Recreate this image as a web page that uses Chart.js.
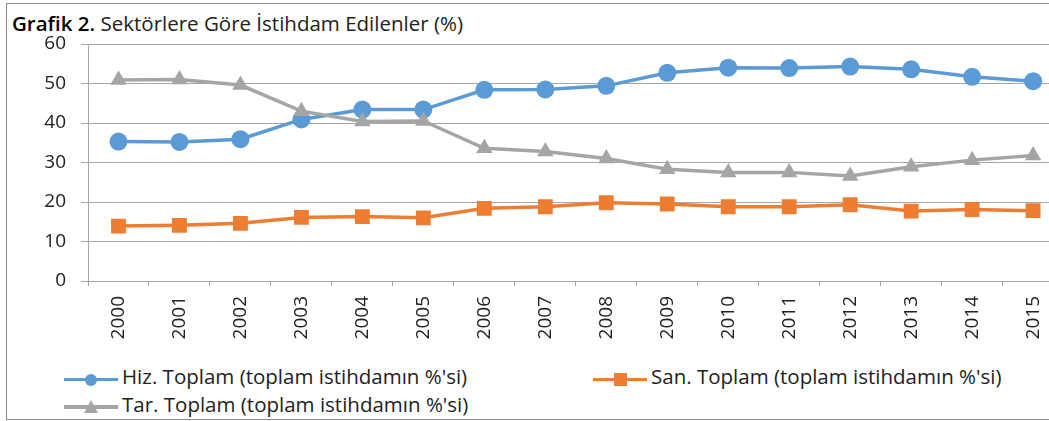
<!DOCTYPE html>
<html><head><meta charset="utf-8">
<script src="https://cdn.jsdelivr.net/npm/chart.js@4"></script>
<style>
html,body{margin:0;padding:0;background:#fff;}
body{width:1049px;height:421px;overflow:hidden;position:relative;font-family:"Open Sans",sans-serif;color:#222;}
#frame{position:absolute;left:6px;top:3px;width:1100px;height:417px;border:1px solid #8c8c8c;box-sizing:border-box;}
#title{position:absolute;left:12px;top:10px;font-size:20.5px;line-height:26px;white-space:nowrap;color:#222;}
#title b{font-weight:600;color:#000;}
#wrap{position:absolute;left:0;top:0;}
.item{position:absolute;height:26px;}
.item .ln{position:absolute;left:0;top:14.3px;width:54px;height:3.5px;}
.item .mk{position:absolute;}
.item .tx{position:absolute;left:58px;top:0;font-size:20.5px;line-height:26px;white-space:nowrap;color:#222;}
</style>
</head><body>
<div id="frame"></div>
<div id="title"><b>Grafik 2.</b> Sektörlere Göre İstihdam Edilenler (%)</div>
<div id="wrap"><canvas id="c" width="1080" height="352"></canvas></div>
<div id="legend"></div>
<script>
const years = ['2000','2001','2002','2003','2004','2005','2006','2007','2008','2009','2010','2011','2012','2013','2014','2015'];
const hizmet = [35.3, 35.2, 35.9, 40.9, 43.4, 43.4, 48.4, 48.5, 49.4, 52.7, 54.0, 53.9, 54.3, 53.6, 51.7, 50.6];
const sanayi = [13.9, 14.1, 14.6, 16.1, 16.3, 16.0, 18.4, 18.8, 19.8, 19.5, 18.8, 18.8, 19.3, 17.7, 18.1, 17.8];
const tarim  = [50.9, 51.0, 49.6, 43.0, 40.4, 40.5, 33.6, 32.8, 31.0, 28.3, 27.5, 27.5, 26.6, 28.9, 30.6, 31.8];
const seriesNames = ["Hiz. Toplam (toplam istihdamın %'si)", "San. Toplam (toplam istihdamın %'si)", "Tar. Toplam (toplam istihdamın %'si)"];
const seriesColors = ['#5b9bd5', '#ed7d31', '#a5a5a5'];
const yTickValues = [0, 10, 20, 30, 40, 50, 60];

const gridColor = '#a6a6a6';
const tickFont = {family: '"Open Sans", sans-serif', size: 19};

const ds = (label, data, color, style, radius, order) => ({
  label, data, borderColor: color, backgroundColor: color,
  borderWidth: 3.5, tension: 0, pointStyle: style, pointRadius: radius,
  pointHoverRadius: radius, pointBorderWidth: 0, pointBackgroundColor: color, order
});

new Chart(document.getElementById('c'), {
  type: 'line',
  data: {
    labels: years,
    datasets: [
      ds(seriesNames[0], hizmet, seriesColors[0], 'circle', 9, 2),
      ds(seriesNames[1], sanayi, seriesColors[1], 'rect', 10.5, 1),
      ds(seriesNames[2], tarim, seriesColors[2], 'triangle', 9.5, 0)
    ]
  },
  options: {
    responsive: false, animation: false, devicePixelRatio: 1,
    layout: {padding: {left: 0, right: 16.4, top: 44, bottom: 0}},
    plugins: {legend: {display: false}, tooltip: {enabled: false}, title: {display: false}},
    scales: {
      x: {
        offset: true,
        grid: {offset: true, drawOnChartArea: false, drawTicks: true, tickLength: 5, color: gridColor, lineWidth: 1},
        border: {color: gridColor, width: 1},
        ticks: {minRotation: 90, maxRotation: 90, autoSkip: false, font: tickFont, color: '#222', padding: 10},
        afterFit: s => { s.height = 71; }
      },
      y: {
        min: 0, max: 60,
        afterBuildTicks: s => { s.ticks = yTickValues.map(v => ({value: v})); },
        grid: {color: gridColor, lineWidth: 1, tickLength: 7},
        border: {color: gridColor, width: 1},
        ticks: {font: tickFont, color: '#222', padding: 15},
        afterFit: s => { s.width = 88; }
      }
    }
  }
});

// HTML legend
const legendPos = [{x: 64, y: 363.4}, {x: 593, y: 363.4}, {x: 64, y: 391}];
const markers = ['circle', 'rect', 'triangle'];
const leg = document.getElementById('legend');
seriesNames.forEach((name, i) => {
  const it = document.createElement('div');
  it.className = 'item';
  it.style.left = legendPos[i].x + 'px';
  it.style.top = legendPos[i].y + 'px';
  const ln = document.createElement('div');
  ln.className = 'ln'; ln.style.background = seriesColors[i];
  it.appendChild(ln);
  const mk = document.createElement('div');
  mk.className = 'mk';
  if (markers[i] === 'circle') {
    Object.assign(mk.style, {left: '21px', top: '10.3px', width: '12px', height: '12px', borderRadius: '50%', background: seriesColors[i]});
  } else if (markers[i] === 'rect') {
    Object.assign(mk.style, {left: '21px', top: '9.8px', width: '13px', height: '13px', background: seriesColors[i]});
  } else {
    Object.assign(mk.style, {left: '20px', top: '9px', width: '0', height: '0', borderLeft: '7px solid transparent', borderRight: '7px solid transparent', borderBottom: '13px solid ' + seriesColors[i]});
  }
  it.appendChild(mk);
  const tx = document.createElement('div');
  tx.className = 'tx'; tx.textContent = name;
  it.appendChild(tx);
  leg.appendChild(it);
});
</script>
</body></html>
